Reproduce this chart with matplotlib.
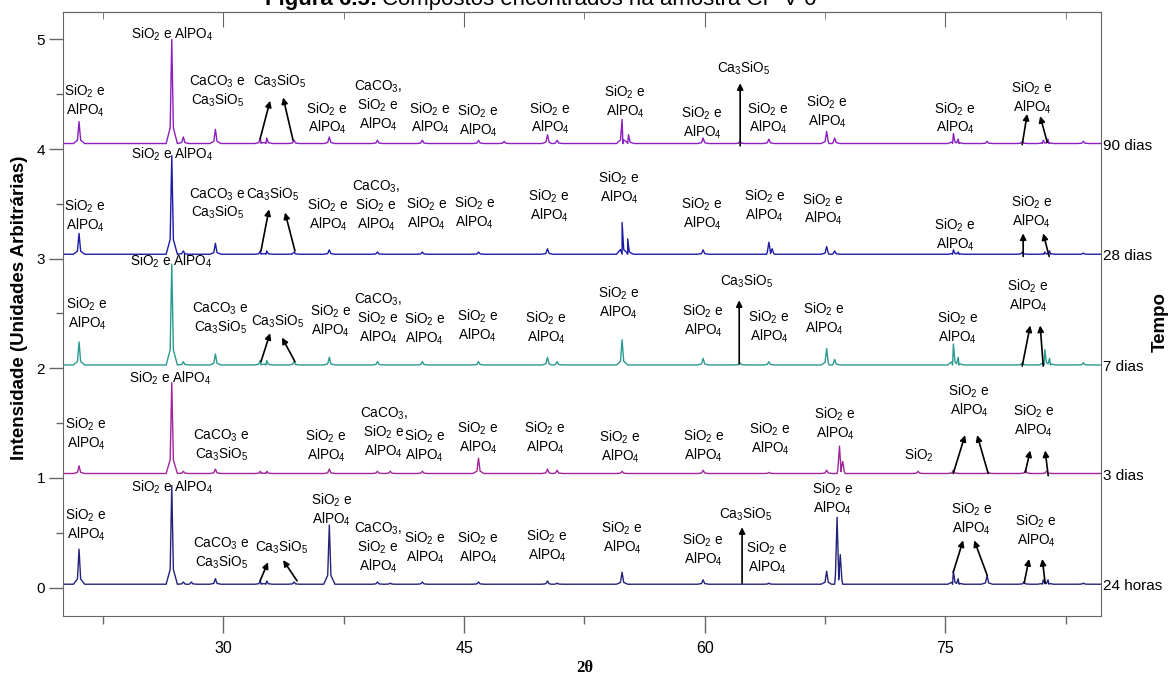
import numpy as np
import matplotlib
matplotlib.use("Agg")
import matplotlib.pyplot as plt
from matplotlib.ticker import MultipleLocator

# fontes parecidas com Arial
plt.rcParams['font.family'] = ['Liberation Sans', 'DejaVu Sans']
plt.rcParams['mathtext.fontset'] = 'custom'
plt.rcParams['mathtext.rm'] = 'Liberation Sans'
plt.rcParams['mathtext.it'] = 'Liberation Sans:italic'

# posições dos picos (2θ) e topo de cada pico
pos_24h = [21.0, 26.78, 27.5, 28.0, 29.5, 32.3, 32.7, 34.4, 36.6, 39.6, 40.4, 42.4, 45.9, 50.2, 50.8,
           54.85, 59.9, 64.0, 67.6, 68.25, 68.45, 75.5, 75.8, 77.6, 79.9, 81.1, 81.4, 83.6]
top_24h = [0.35, 0.93, 0.05, 0.05, 0.08, 0.06, 0.06, 0.05, 0.57, 0.05, 0.04, 0.05, 0.05, 0.06, 0.04,
           0.14, 0.07, 0.04, 0.15, 0.64, 0.30, 0.15, 0.08, 0.11, 0.05, 0.07, 0.07, 0.04]

pos_3d = [21.0, 26.78, 27.5, 29.5, 32.3, 32.7, 36.6, 39.6, 40.4, 42.4, 45.9, 50.2, 50.8, 54.85, 59.9,
          64.0, 67.6, 68.4, 68.6, 73.3, 75.5, 77.7, 80.0, 81.3, 83.6]
top_3d = [1.11, 1.87, 1.06, 1.08, 1.06, 1.06, 1.08, 1.06, 1.06, 1.06, 1.18, 1.08, 1.07, 1.06, 1.07,
          1.05, 1.07, 1.29, 1.15, 1.06, 1.07, 1.05, 1.07, 1.06, 1.04]

pos_7d = [21.0, 26.78, 27.5, 29.5, 32.3, 32.7, 34.4, 36.6, 39.6, 42.4, 45.9, 50.2, 50.8, 54.85, 59.9,
          62.2, 64.0, 67.6, 68.1, 75.5, 75.8, 79.8, 81.2, 81.5, 83.6]
top_7d = [2.24, 2.95, 2.06, 2.13, 2.07, 2.07, 2.06, 2.10, 2.06, 2.06, 2.06, 2.10, 2.06, 2.26, 2.09,
          2.05, 2.06, 2.18, 2.08, 2.22, 2.10, 2.05, 2.17, 2.09, 2.05]

pos_28d = [21.0, 26.78, 27.5, 29.5, 32.3, 32.7, 34.4, 36.6, 39.6, 42.4, 45.9, 50.2, 54.85, 55.2, 59.9,
           64.0, 64.2, 67.6, 68.1, 75.5, 75.8, 79.8, 81.2, 81.5, 83.6]
top_28d = [3.23, 3.94, 3.07, 3.14, 3.07, 3.07, 3.06, 3.08, 3.06, 3.06, 3.06, 3.09, 3.33, 3.18, 3.08,
           3.15, 3.09, 3.11, 3.07, 3.08, 3.06, 3.06, 3.06, 3.07, 3.05]

pos_90d = [21.0, 26.78, 27.5, 29.5, 32.3, 32.7, 34.4, 36.6, 39.6, 42.4, 45.9, 47.5, 50.2, 50.8, 54.85,
           55.25, 59.9, 62.2, 64.0, 67.6, 68.1, 75.5, 75.8, 77.6, 79.8, 81.1, 81.4, 83.6]
top_90d = [4.25, 5.0, 4.11, 4.18, 4.10, 4.10, 4.08, 4.11, 4.08, 4.08, 4.08, 4.07, 4.13, 4.08, 4.27,
           4.13, 4.10, 4.07, 4.09, 4.16, 4.10, 4.14, 4.09, 4.07, 4.07, 4.08, 4.09, 4.07]

amostras = ["24 horas", "3 dias", "7 dias", "28 dias", "90 dias"]
linha_base = [0.03, 1.04, 2.03, 3.04, 4.05]
cores = ["#23237a", "#a0269c", "#2b9a8f", "#1c1ca8", "#8b1fbf"]
picos = [(pos_24h, top_24h), (pos_3d, top_3d), (pos_7d, top_7d), (pos_28d, top_28d), (pos_90d, top_90d)]

# rótulos das fases
A = "SiO$_2$ e\nAlPO$_4$"
B = "SiO$_2$ e AlPO$_4$"
C = "CaCO$_3$ e\nCa$_3$SiO$_5$"
D = "Ca$_3$SiO$_5$"
E = "CaCO$_3$,\nSiO$_2$ e\nAlPO$_4$"
F = "SiO$_2$"

rot_24h = [(21.43, 0.57, A), (26.83, 0.91, B), (29.85, 0.31, C), (33.63, 0.37, D), (36.75, 0.71, A),
           (39.64, 0.36, E), (42.57, 0.36, A), (45.87, 0.36, A), (50.17, 0.38, A), (54.85, 0.45, A),
           (59.90, 0.34, A), (62.52, 0.67, D), (63.89, 0.27, A), (67.97, 0.81, A), (76.61, 0.63, A),
           (80.66, 0.52, A)]
rot_3d = [(21.43, 1.40, A), (26.71, 1.91, B), (29.85, 1.30, C), (36.40, 1.29, A), (40.00, 1.41, E),
          (42.54, 1.29, A), (45.87, 1.37, A), (50.05, 1.37, A), (54.73, 1.28, A), (59.94, 1.29, A),
          (64.08, 1.36, A), (68.13, 1.49, A), (73.37, 1.21, F), (76.48, 1.70, A), (80.51, 1.52, A)]
rot_7d = [(21.50, 2.50, A), (26.73, 2.98, B), (29.79, 2.46, C), (33.40, 2.43, D), (36.68, 2.43, A),
          (39.64, 2.45, E), (42.56, 2.36, A), (45.84, 2.39, A), (50.11, 2.37, A), (54.63, 2.60, A),
          (59.90, 2.43, A), (62.58, 2.79, D), (64.01, 2.38, A), (67.44, 2.45, A), (75.77, 2.37, A),
          (80.16, 2.66, A)]
rot_28d = [(21.37, 3.39, A), (26.80, 3.95, B), (29.60, 3.50, C), (33.03, 3.59, D), (36.52, 3.40, A),
           (39.51, 3.48, E), (42.67, 3.41, A), (45.67, 3.42, A), (50.30, 3.48, A), (54.66, 3.65, A),
           (59.84, 3.41, A), (63.74, 3.48, A), (67.38, 3.45, A), (75.61, 3.22, A), (80.35, 3.43, A)]
rot_90d = [(21.37, 4.44, A), (26.80, 5.05, B), (29.63, 4.53, C), (33.47, 4.62, D), (36.46, 4.28, A),
           (39.64, 4.39, E), (42.88, 4.28, A), (45.87, 4.26, A), (50.36, 4.28, A), (55.04, 4.43, A),
           (59.84, 4.24, A), (62.39, 4.74, D), (63.95, 4.28, A), (67.63, 4.34, A), (75.61, 4.28, A),
           (80.41, 4.47, A)]

# setas (x0, y0) -> (x1, y1)
setas = [(32.28, 0.06, 32.78, 0.23), (34.59, 0.06, 33.72, 0.25), (62.33, 0.04, 62.33, 0.55),
         (75.49, 0.14, 76.11, 0.43), (77.61, 0.11, 76.80, 0.43), (79.91, 0.04, 80.22, 0.26),
         (81.22, 0.04, 81.04, 0.26),
         (75.49, 1.04, 76.23, 1.39), (77.67, 1.04, 76.98, 1.39), (79.98, 1.05, 80.29, 1.25),
         (81.41, 1.02, 81.22, 1.25),
         (32.34, 2.06, 32.91, 2.32), (34.46, 2.06, 33.65, 2.28), (62.15, 2.04, 62.15, 2.62),
         (79.79, 2.02, 80.29, 2.39), (81.10, 2.02, 80.91, 2.39),
         (32.34, 3.07, 32.84, 3.45), (34.46, 3.07, 33.84, 3.42), (79.85, 3.02, 79.85, 3.23),
         (81.47, 3.02, 81.10, 3.23),
         (32.28, 4.09, 32.91, 4.44), (34.34, 4.08, 33.72, 4.47), (62.21, 4.03, 62.21, 4.60),
         (79.79, 4.04, 80.10, 4.32), (81.35, 4.06, 80.91, 4.30)]

x_ini, x_fim = 20.0, 84.7
# forma do pico (deslocamento em 2θ e fração da altura)
desloc = [-0.35, -0.1, 0.0, 0.1, 0.35]
frac = [0.0, 0.15, 1.0, 0.15, 0.0]

fig = plt.figure(figsize=(11.71, 6.8), dpi=100)
ax = fig.add_axes([0.0538, 0.0941, 0.8864, 0.8883])

for (pos, top), base, cor, nome in zip(picos, linha_base, cores, amostras):
    pts = [(x_ini, base), (x_fim, base)]
    for p, t in zip(pos, top):
        for d, f in zip(desloc, frac):
            pts.append((p + d, base + f * (t - base)))
    pts.sort()
    ax.plot([a for a, b in pts], [b for a, b in pts], color=cor, lw=1.0)
    ax.text(1.002, base - 0.02, nome, transform=ax.get_yaxis_transform(), ha='left', va='center',
            fontsize=11, clip_on=False)

for rot in [rot_24h, rot_3d, rot_7d, rot_28d, rot_90d]:
    for x, y, s in rot:
        ax.text(x, y, s, ha='center', va='center', fontsize=9.8, linespacing=1.12)

for x0, y0, x1, y1 in setas:
    ax.annotate("", xy=(x1, y1), xytext=(x0, y0),
                arrowprops=dict(arrowstyle='-|>', lw=1.2, color='black', mutation_scale=9,
                                shrinkA=0, shrinkB=0))

ax.set_xlim(x_ini, x_fim)
ax.set_ylim(-0.26, 5.25)
ax.set_xticks([30, 45, 60, 75])
ax.xaxis.set_minor_locator(MultipleLocator(7.5))
ax.yaxis.set_major_locator(MultipleLocator(1))
ax.yaxis.set_minor_locator(MultipleLocator(0.5))
ax.tick_params(axis='x', which='major', direction='out', length=12, width=1, color='#666666',
               labelsize=11.5, pad=6)
ax.tick_params(axis='x', which='minor', direction='out', length=6, width=1, color='#666666')
ax.tick_params(axis='y', which='major', direction='out', length=10, width=1, color='#666666',
               labelsize=11, pad=3)
ax.tick_params(axis='y', which='minor', direction='out', length=5, width=1, color='#666666')
for s in ax.spines.values():
    s.set_color('#666666')

topo = ax.secondary_xaxis('top')
topo.set_xticks([30, 45, 60, 75])
topo.xaxis.set_minor_locator(MultipleLocator(7.5))
topo.tick_params(which='major', direction='in', length=11, color='#666666', labeltop=False)
topo.tick_params(which='minor', direction='in', length=5, color='#666666')
topo.spines['top'].set_color('#666666')

fig.text(0.017, 0.548, "Intensidade (Unidades Arbitrárias)", rotation=90, ha='center', va='center',
         fontsize=13.5, fontweight='bold')
fig.text(0.991, 0.526, "Tempo", rotation=90, ha='center', va='center',
         fontsize=13.5, fontweight='bold')
fig.text(0.4995, 0.017, "2θ", ha='center', va='center', fontsize=12, fontweight='bold',
         family=['Liberation Serif', 'DejaVu Serif'])

# título (cortado no topo como no original)
t1 = fig.text(0.226, 0.993, "Figura 6.5:", ha='left', va='baseline', fontsize=16, fontweight='bold')
fig.canvas.draw()
bb = t1.get_window_extent()
fig.text(bb.x1 / fig.bbox.width + 0.004, 0.993, "Compostos encontrados na amostra CP V-0",
         ha='left', va='baseline', fontsize=16)

fig.savefig("out.png", dpi=100)
